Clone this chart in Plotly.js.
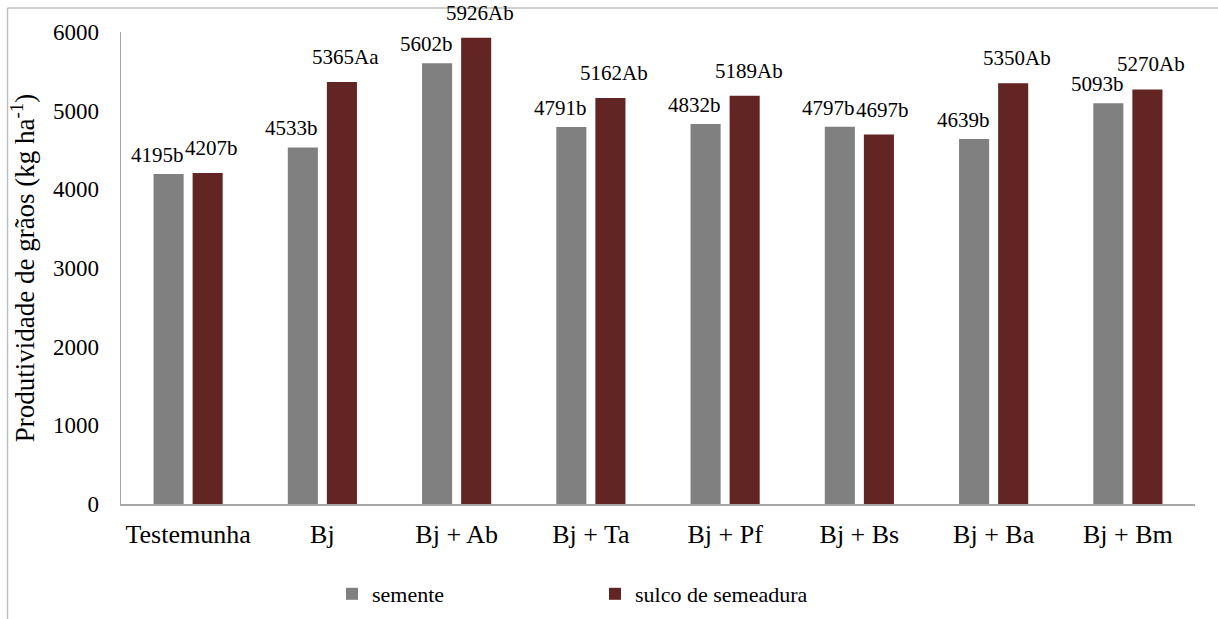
<!DOCTYPE html>
<html>
<head>
<meta charset="utf-8">
<script src="https://cdn.plot.ly/plotly-3.0.1.min.js"></script>
</head>
<body style="margin:0;background:#fff">
<div id="chart" style="width:1218px;height:619px"></div>
<script>
const categories = ['Testemunha', 'Bj', 'Bj + Ab', 'Bj + Ta', 'Bj + Pf', 'Bj + Bs', 'Bj + Ba', 'Bj + Bm'];
const sementeValues = [4195, 4533, 5602, 4791, 4832, 4797, 4639, 5093];
const sementeLabels = ['4195b', '4533b', '5602b', '4791b', '4832b', '4797b', '4639b', '5093b'];
const sulcoValues = [4207, 5365, 5926, 5162, 5189, 4697, 5350, 5270];
const sulcoLabels = ['4207b', '5365Aa', '5926Ab', '5162Ab', '5189Ab', '4697b', '5350Ab', '5270Ab'];
const seriesNames = ['semente', 'sulco de semeadura'];

const W = 1218, H = 619;
const M = {l: 121, r: 23, t: 32, b: 115, autoexpand: false};
const plotW = W - M.l - M.r;
const plotH = H - M.t - M.b;
const bargap = 0.418;
const catW = plotW / categories.length;
const slot = (1 - bargap) * catW / 2;

const fam = 'Liberation Serif';
const grayCol = '#808080';
const redCol = '#632523';

const traces = [
  {type: 'bar', name: seriesNames[0], x: categories, y: sementeValues,
   marker: {color: grayCol}, hoverinfo: 'skip'},
  {type: 'bar', name: seriesNames[1], x: categories, y: sulcoValues,
   marker: {color: redCol}, hoverinfo: 'skip'}
];

const annotations = [];
categories.forEach((c, i) => {
  annotations.push({x: c, y: sementeValues[i], xref: 'x', yref: 'y', text: sementeLabels[i],
    showarrow: false, yanchor: 'bottom', xanchor: 'center', xshift: -slot / 2 - 11, yshift: 5,
    font: {family: fam, size: 21, color: '#000'}});
  annotations.push({x: c, y: sulcoValues[i], xref: 'x', yref: 'y', text: sulcoLabels[i],
    showarrow: false, yanchor: 'bottom', xanchor: 'center', xshift: slot / 2 + 4, yshift: 11,
    font: {family: fam, size: 21, color: '#000'}});
});

const px2x = p => (p - M.l) / plotW;
const px2y = p => (H - M.b - p) / plotH;
const frameCol = '#bfbfbf';
const shapes = [
  {type: 'line', xref: 'paper', yref: 'paper', x0: px2x(7.5), x1: px2x(1240), y0: px2y(8), y1: px2y(8),
   line: {color: frameCol, width: 1.5}},
  {type: 'line', xref: 'paper', yref: 'paper', x0: px2x(7.5), x1: px2x(7.5), y0: px2y(8), y1: px2y(640),
   line: {color: frameCol, width: 1.5}}
];

const layout = {
  width: W, height: H,
  margin: M,
  font: {family: fam, color: '#000'},
  paper_bgcolor: '#fff', plot_bgcolor: '#fff',
  barmode: 'group', bargap: bargap, bargroupgap: 0.23,
  showlegend: true,
  legend: {orientation: 'h', x: px2x(332), y: px2y(573), xanchor: 'left', yanchor: 'top',
    font: {family: fam, size: 22, color: '#000'}, entrywidth: 218, entrywidthmode: 'pixels',
    bgcolor: 'rgba(0,0,0,0)'},
  xaxis: {type: 'category', showline: true, linecolor: '#a6a6a6', linewidth: 1.5, ticks: '',
    tickfont: {family: fam, size: 26, color: '#000'}, showgrid: false, zeroline: false,
    ticklabelstandoff: 6, automargin: false, fixedrange: true},
  yaxis: {range: [0, 6000], tickvals: [0, 1000, 2000, 3000, 4000, 5000, 6000],
    showline: true, linecolor: '#a6a6a6', linewidth: 1.5, ticks: '', showgrid: false, zeroline: false,
    tickfont: {family: fam, size: 23, color: '#000'}, ticklabelstandoff: 16,
    title: {text: 'Produtividade de grãos (kg ha<sup>-1</sup>)', font: {family: fam, size: 27, color: '#000'}, standoff: 10},
    automargin: false, fixedrange: true},
  annotations: annotations,
  shapes: shapes
};

Plotly.newPlot('chart', traces, layout, {displayModeBar: false, staticPlot: true});
</script>
</body>
</html>
